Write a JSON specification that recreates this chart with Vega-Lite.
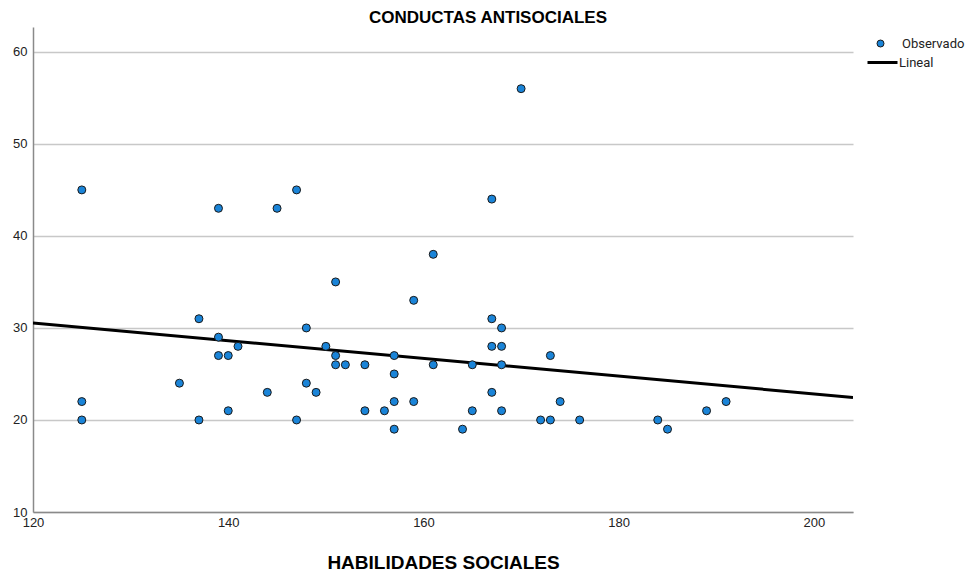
{
  "$schema": "https://vega.github.io/schema/vega-lite/v6.json",
  "width": 820,
  "height": 485,
  "autosize": {"type": "none"},
  "padding": {"left": 33, "top": 27, "right": 124, "bottom": 61},
  "background": "white",
  "title": {
    "text": "CONDUCTAS ANTISOCIALES",
    "font": "Liberation Sans",
    "fontSize": 17,
    "fontWeight": "bold",
    "color": "#000000",
    "anchor": "middle",
    "frame": "group",
    "dx": 45,
    "offset": 0
  },
  "config": {
    "view": {"stroke": null},
    "font": "Liberation Sans"
  },
  "datasets": {
    "obs": [
      {"hab": 125, "cond": 45, "serie": "Observado"},
      {"hab": 125, "cond": 22, "serie": "Observado"},
      {"hab": 125, "cond": 20, "serie": "Observado"},
      {"hab": 135, "cond": 24, "serie": "Observado"},
      {"hab": 137, "cond": 31, "serie": "Observado"},
      {"hab": 137, "cond": 20, "serie": "Observado"},
      {"hab": 139, "cond": 43, "serie": "Observado"},
      {"hab": 139, "cond": 29, "serie": "Observado"},
      {"hab": 139, "cond": 27, "serie": "Observado"},
      {"hab": 140, "cond": 27, "serie": "Observado"},
      {"hab": 140, "cond": 21, "serie": "Observado"},
      {"hab": 141, "cond": 28, "serie": "Observado"},
      {"hab": 144, "cond": 23, "serie": "Observado"},
      {"hab": 145, "cond": 43, "serie": "Observado"},
      {"hab": 147, "cond": 45, "serie": "Observado"},
      {"hab": 147, "cond": 20, "serie": "Observado"},
      {"hab": 148, "cond": 30, "serie": "Observado"},
      {"hab": 148, "cond": 24, "serie": "Observado"},
      {"hab": 149, "cond": 23, "serie": "Observado"},
      {"hab": 150, "cond": 28, "serie": "Observado"},
      {"hab": 151, "cond": 35, "serie": "Observado"},
      {"hab": 151, "cond": 27, "serie": "Observado"},
      {"hab": 151, "cond": 26, "serie": "Observado"},
      {"hab": 152, "cond": 26, "serie": "Observado"},
      {"hab": 154, "cond": 26, "serie": "Observado"},
      {"hab": 154, "cond": 21, "serie": "Observado"},
      {"hab": 156, "cond": 21, "serie": "Observado"},
      {"hab": 157, "cond": 27, "serie": "Observado"},
      {"hab": 157, "cond": 25, "serie": "Observado"},
      {"hab": 157, "cond": 22, "serie": "Observado"},
      {"hab": 157, "cond": 19, "serie": "Observado"},
      {"hab": 159, "cond": 33, "serie": "Observado"},
      {"hab": 159, "cond": 22, "serie": "Observado"},
      {"hab": 161, "cond": 38, "serie": "Observado"},
      {"hab": 161, "cond": 26, "serie": "Observado"},
      {"hab": 164, "cond": 19, "serie": "Observado"},
      {"hab": 165, "cond": 26, "serie": "Observado"},
      {"hab": 165, "cond": 21, "serie": "Observado"},
      {"hab": 167, "cond": 44, "serie": "Observado"},
      {"hab": 167, "cond": 31, "serie": "Observado"},
      {"hab": 167, "cond": 28, "serie": "Observado"},
      {"hab": 167, "cond": 23, "serie": "Observado"},
      {"hab": 168, "cond": 30, "serie": "Observado"},
      {"hab": 168, "cond": 28, "serie": "Observado"},
      {"hab": 168, "cond": 26, "serie": "Observado"},
      {"hab": 168, "cond": 21, "serie": "Observado"},
      {"hab": 170, "cond": 56, "serie": "Observado"},
      {"hab": 172, "cond": 20, "serie": "Observado"},
      {"hab": 173, "cond": 27, "serie": "Observado"},
      {"hab": 173, "cond": 20, "serie": "Observado"},
      {"hab": 174, "cond": 22, "serie": "Observado"},
      {"hab": 176, "cond": 20, "serie": "Observado"},
      {"hab": 184, "cond": 20, "serie": "Observado"},
      {"hab": 185, "cond": 19, "serie": "Observado"},
      {"hab": 189, "cond": 21, "serie": "Observado"},
      {"hab": 191, "cond": 22, "serie": "Observado"}
    ],
    "fit": [
      {"hab": 120, "cond": 30.55, "serie": "Lineal"},
      {"hab": 204, "cond": 22.45, "serie": "Lineal"}
    ]
  },
  "layer": [
    {
      "data": {"name": "fit"},
      "mark": {"type": "line", "strokeWidth": 3, "clip": true},
      "encoding": {
        "x": {
          "field": "hab",
          "type": "quantitative",
          "scale": {"domain": [120, 204], "nice": false, "zero": false},
          "axis": {
            "title": "HABILIDADES SOCIALES",
            "titleFont": "Liberation Sans",
            "titleFontSize": 19,
            "titleFontWeight": "bold",
            "titleColor": "#000000",
            "titlePadding": 24,
            "values": [120, 140, 160, 180, 200],
            "ticks": false,
            "grid": false,
            "labelFont": "Liberation Sans",
            "labelFontSize": 13,
            "labelColor": "#222222",
            "labelPadding": 4,
            "labelFlush": false,
            "labelOverlap": false,
            "domainColor": "#8a8a8a",
            "domainWidth": 1.5
          }
        },
        "y": {
          "field": "cond",
          "type": "quantitative",
          "scale": {"domain": [10, 62.7], "nice": false, "zero": false},
          "axis": {
            "title": null,
            "values": [10, 20, 30, 40, 50, 60],
            "ticks": false,
            "grid": true,
            "gridColor": "#c8c8c8",
            "gridWidth": 1.5,
            "labelFont": "Liberation Sans",
            "labelFontSize": 13,
            "labelColor": "#222222",
            "labelPadding": 6,
            "labelFlush": false,
            "labelOverlap": false,
            "domainColor": "#8a8a8a",
            "domainWidth": 1.5
          }
        },
        "stroke": {
          "field": "serie",
          "type": "nominal",
          "scale": {"domain": ["Lineal"], "range": ["#000000"]},
          "legend": {
            "title": null,
            "orient": "none",
            "legendX": 833,
            "legendY": 19,
            "symbolType": "stroke",
            "symbolSize": 900,
            "symbolStrokeWidth": 3,
            "labelFont": "Roboto",
            "labelFontSize": 13,
            "labelColor": "#222222",
            "labelOffset": 0
          }
        }
      }
    },
    {
      "data": {"name": "obs"},
      "mark": {"type": "point", "filled": true, "size": 64, "stroke": "#1a1a1a", "strokeWidth": 1, "opacity": 1},
      "encoding": {
        "x": {"field": "hab", "type": "quantitative"},
        "y": {"field": "cond", "type": "quantitative"},
        "fill": {
          "field": "serie",
          "type": "nominal",
          "scale": {"domain": ["Observado"], "range": ["#1a84d8"]},
          "legend": {
            "title": null,
            "orient": "none",
            "legendX": 841,
            "legendY": 10,
            "symbolType": "circle",
            "symbolSize": 49,
            "symbolStrokeColor": "#1a1a1a",
            "symbolStrokeWidth": 1,
            "symbolOpacity": 1,
            "labelFont": "Roboto",
            "labelFontSize": 13,
            "labelColor": "#222222",
            "labelOffset": 15
          }
        }
      }
    }
  ]
}
